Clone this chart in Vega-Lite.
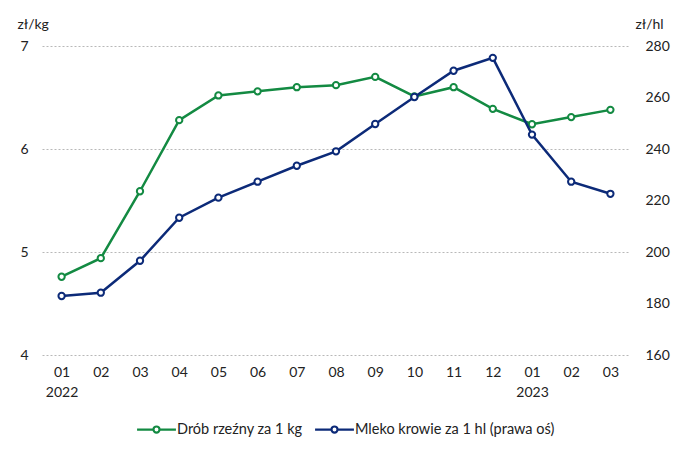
{
  "$schema": "https://vega.github.io/schema/vega-lite/v6.json",
  "autosize": {"type": "none"},
  "width": 588,
  "height": 309,
  "padding": {"left": 42, "top": 46, "right": 62, "bottom": 107},
  "background": "white",
  "config": {
    "font": "Lato",
    "view": {"stroke": null},
    "axis": {"labelFont": "Lato", "titleFont": "Lato", "labelFontSize": 14, "labelColor": "#222", "titleColor": "#222", "titleFontWeight": "normal", "titleFontSize": 14}
  },
  "data": {
    "values": [
      {"okres": "01|2022", "drob": 4.76, "mleko": 182.9},
      {"okres": "02", "drob": 4.94, "mleko": 184.2},
      {"okres": "03", "drob": 5.59, "mleko": 196.6},
      {"okres": "04", "drob": 6.28, "mleko": 213.3},
      {"okres": "05", "drob": 6.52, "mleko": 221.1},
      {"okres": "06", "drob": 6.56, "mleko": 227.3},
      {"okres": "07", "drob": 6.60, "mleko": 233.5},
      {"okres": "08", "drob": 6.62, "mleko": 239.1},
      {"okres": "09", "drob": 6.70, "mleko": 249.7},
      {"okres": "10", "drob": 6.51, "mleko": 260.2},
      {"okres": "11", "drob": 6.60, "mleko": 270.4},
      {"okres": "12", "drob": 6.39, "mleko": 275.4},
      {"okres": "01|2023", "drob": 6.24, "mleko": 245.6},
      {"okres": "02 ", "drob": 6.31, "mleko": 227.3},
      {"okres": "03 ", "drob": 6.38, "mleko": 222.6}
    ]
  },
  "encoding": {
    "x": {
      "field": "okres", "type": "ordinal", "sort": null,
      "scale": {"type": "point", "padding": 0.5},
      "axis": {"title": null, "labelAngle": 0, "domain": false, "ticks": false, "labelPadding": 10, "labelExpr": "split(datum.label, '|')", "labelLineHeight": 20, "labelBaseline": "top"}
    }
  },
  "layer": [
    {
      "mark": {"type": "line", "strokeWidth": 2.5, "point": {"filled": false, "fill": "white", "strokeWidth": 2, "size": 40}},
      "encoding": {
        "y": {"field": "drob", "type": "quantitative", "scale": {"domain": [4, 7], "nice": false, "zero": false},
          "axis": {"title": "zł/kg", "titleAngle": 0, "titleX": -25, "titleY": -22, "titleAlign": "left", "titleBaseline": "middle", "values": [4, 5, 6, 7], "domain": false, "ticks": false, "labelPadding": 14, "grid": true, "gridDash": [2, 2], "gridColor": "#b8b8b8", "gridWidth": 1}},
        "color": {"datum": "Drób rzeźny za 1 kg", "type": "nominal",
          "scale": {"domain": ["Drób rzeźny za 1 kg", "Mleko krowie za 1 hl (prawa oś)"], "range": ["#138a42", "#0c2a78"]},
          "legend": {"title": null, "orient": "none", "legendX": 101, "legendY": 370, "direction": "horizontal", "labelFontSize": 14.5, "labelFont": "Lato", "labelColor": "#222", "labelLimit": 400, "symbolSize": 590, "symbolStrokeWidth": 2.2, "columnPadding": 7, "labelOffset": 7,
            "encode": {"symbols": {"update": {"shape": {"value": "M-1.6,0 L-0.25,0 M0.25,0 L1.6,0 M-0.25,0 A0.25,0.25 0 1,1 0.25,0 A0.25,0.25 0 1,1 -0.25,0"}, "fill": {"value": "white"}, "strokeWidth": {"value": 2.2}}}}}}
      }
    },
    {
      "mark": {"type": "line", "strokeWidth": 2.5, "point": {"filled": false, "fill": "white", "strokeWidth": 2, "size": 40}},
      "encoding": {
        "y": {"field": "mleko", "type": "quantitative", "scale": {"domain": [160, 280], "nice": false, "zero": false},
          "axis": {"orient": "right", "title": "zł/hl", "titleAngle": 0, "titleX": 5, "titleY": -22, "titleAlign": "left", "titleBaseline": "middle", "values": [160, 180, 200, 220, 240, 260, 280], "domain": false, "ticks": false, "labelPadding": 15, "grid": false}},
        "color": {"datum": "Mleko krowie za 1 hl (prawa oś)", "type": "nominal"}
      }
    }
  ],
  "resolve": {"scale": {"y": "independent"}}
}
